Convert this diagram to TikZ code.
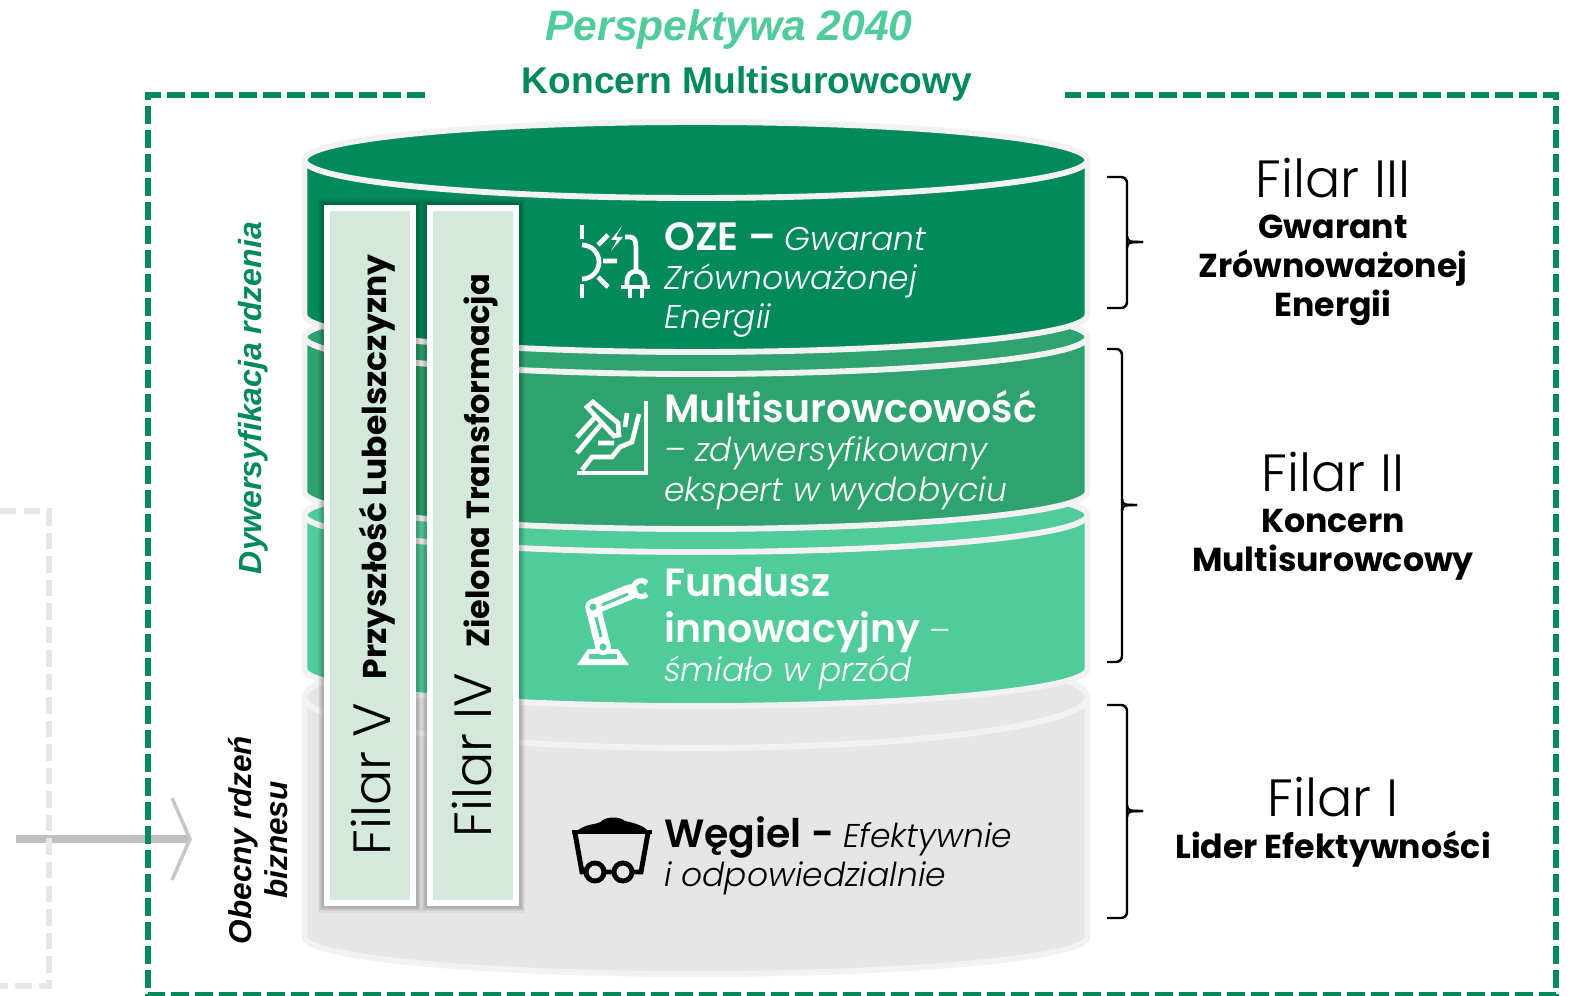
\documentclass[tikz,border=0pt]{standalone}
\usepackage{fontspec}
\setmainfont{Poppins}
\newfontfamily\lightfont{Poppins Light}
\newfontfamily\arialfont{Liberation Sans}
\usetikzlibrary{positioning}

\definecolor{greendark}{HTML}{038A5A}
\definecolor{greenmid}{HTML}{2FA36F}
\definecolor{greenlight}{HTML}{50CB9A}
\definecolor{layergray}{HTML}{E6E6E6}
\definecolor{rimgray}{HTML}{F2F2F2}
\definecolor{columnfill}{HTML}{D5E8DC}

\tikzset{
    headtext/.style={font=\arialfont\bfseries\fontsize{31.6}{34}\selectfont, text=greendark},
    sidetext/.style={font=\arialfont\bfseries\itshape\fontsize{27.2}{30}\selectfont, rotate=90, align=center},
    columnbox/.style={rectangle, draw=white, fill=columnfill, line width=5pt, minimum width=73pt, minimum height=591pt,
        preaction={draw=black, opacity=.04, line width=16pt},
        preaction={draw=black, opacity=.05, line width=14pt},
        preaction={draw=black, opacity=.05, line width=12pt},
        preaction={draw=black, opacity=.06, line width=10pt},
        preaction={draw=black, opacity=.06, line width=8pt}},
    columnname/.style={font=\lightfont\fontsize{44.5}{48}\selectfont, rotate=90},
    columntitle/.style={font=\bfseries\fontsize{28}{30}\selectfont, rotate=90},
    layertext/.style={anchor=north west, align=left, text=white, font=\lightfont\fontsize{28}{33.5}\selectfont},
    filarname/.style={font=\lightfont\fontsize{44.5}{48}\selectfont},
    filartext/.style={font=\bfseries\fontsize{28.2}{33}\selectfont, align=center},
    icon/.style={draw=white, line width=4pt},
    brace/.style={draw=black, line width=2.1pt, rounded corners=5pt}
}

\begin{document}
\begin{tikzpicture}[x=0.85pt, y=-0.85pt]
    \useasboundingbox (0,0) rectangle (1584,996);

    \coordinate (arrowstart) at (16,839);
    \coordinate (arrowtip) at (190,839);
    \coordinate (tipup) at (172,798);
    \coordinate (tipdown) at (172,880);
    \draw[color=black!25, line width=6pt] (arrowstart) -- (arrowtip);
    \draw[color=black!22, line width=3pt] (tipup) -- (arrowtip) -- (tipdown);

    \draw[layergray, line width=5pt, dash pattern=on 14pt off 6pt] (0,511) -- (49,511) -- (49,986) -- (0,986);
    \draw[greendark, line width=5pt, dash pattern=on 15pt off 5.4pt] (425,95) -- (148,95) -- (148,995) -- (1556,995) -- (1556,95) -- (1065,95);

    \foreach \top/\bottom/\fillcol/\ry in {697/937/layergray/51, 515/669/greenlight/37, 337/492/greenmid/37, 160/315/greendark/38} {
        \filldraw[fill=\fillcol, draw=rimgray, line width=5pt] (304.5,\top) -- (304.5,\bottom)
            arc[start angle=180, end angle=0, x radius=391.5, y radius=37] -- (1087.5,\top) -- cycle;
        \filldraw[fill=\fillcol, draw=rimgray, line width=5pt] (696,\top) ellipse[x radius=391.5, y radius=\ry];
    }

    \node[columnbox] (filarV) at (370,555.5) {};
    \node[columnbox] (filarIV) at (473,555.5) {};

    \node[columnname] (nameV) at (371,779) {Filar V};
    \node[columntitle] (titleV) at (377,467) {Przyszłość Lubelszczyzny};
    \node[columnname] (nameIV) at (472,755) {Filar IV};
    \node[columntitle, font=\bfseries\fontsize{27.2}{30}\selectfont] (titleIV) at (481,461) {Zielona Transformacja};

    \node[headtext, font=\arialfont\bfseries\itshape\fontsize{36.2}{38}\selectfont, text=greenlight] (perspective) at (729,29) {Perspektywa 2040};
    \node[headtext] (concern) at (747,84) {Koncern Multisurowcowy};
    \node[sidetext, text=greendark] (diversify) at (253,398) {Dywersyfikacja rdzenia};
    \node[sidetext, text=black, font=\arialfont\bfseries\itshape\fontsize{26.8}{30}\selectfont] (core) at (258,840) {Obecny rdzeń\\biznesu};

    \node[layertext] (oze) at (660,218) {{\bfseries\fontsize{33.5}{33.5}\selectfont OZE –} \textit{Gwarant}\\\textit{Zrównoważonej}\\\textit{Energii}};
    \node[layertext] (multi) at (660,386) {{\bfseries\fontsize{33.5}{33.5}\selectfont Multisurowcowość}\\\textit{– zdywersyfikowany}\\\textit{ekspert w wydobyciu}};
    \node[layertext] (fund) at (660,563) {{\bfseries\fontsize{33.5}{33.5}\selectfont Fundusz}\\[5.5pt]{\bfseries\fontsize{33.5}{33.5}\selectfont innowacyjny} –\\\textit{śmiało w przód}};
    \node[layertext, text=black] (coal) at (660,812) {{\bfseries\fontsize{33.5}{33.5}\selectfont Węgiel -} \textit{Efektywnie}\\\textit{i odpowiedzialnie}};

    \node[filarname] (filar3) at (1333,178) {Filar III};
    \node[filartext] (filar3text) at (1333,270) {Gwarant\\Zrównoważonej\\Energii};
    \node[filarname] (filar2) at (1333,472) {Filar II};
    \node[filartext] (filar2text) at (1333,545) {Koncern\\Multisurowcowy};
    \node[filarname] (filar1) at (1333,797) {Filar I};
    \node[filartext] (filar1text) at (1333,849) {Lider Efektywności};

    \draw[brace] (1107,177) -- (1127,177) -- (1127,308) -- (1107,308);
    \draw[brace, rounded corners=0pt] (1127,236) .. controls (1127,242) and (1130,242) .. (1143,242);
    \draw[brace, rounded corners=0pt] (1127,248) .. controls (1127,242) and (1130,242) .. (1143,242);
    \draw[brace] (1107,349) -- (1122,349) -- (1122,662) -- (1107,662);
    \draw[brace, rounded corners=0pt] (1122,499) .. controls (1122,505) and (1125,505) .. (1137,505);
    \draw[brace, rounded corners=0pt] (1122,511) .. controls (1122,505) and (1125,505) .. (1137,505);
    \draw[brace] (1107,705) -- (1127,705) -- (1127,918) -- (1107,918);
    \draw[brace, rounded corners=0pt] (1127,805) .. controls (1127,811) and (1130,811) .. (1143,811);
    \draw[brace, rounded corners=0pt] (1127,817) .. controls (1127,811) and (1130,811) .. (1143,811);

    % sun and plug
    \draw[icon] (582,225) -- (582,239) (582,284) -- (582,298);
    \draw[icon] (582,245) arc[start angle=-90, end angle=90, radius=17];
    \draw[icon] (598,245) -- (608,235) (603,261) -- (617,261) (598,277) -- (608,287);
    \fill[white] (622,226) -- (611,240) -- (617,240) -- (611,251) -- (623,237) -- (616,237) -- cycle;
    \draw[icon] (625,237) -- (630,237) .. controls (635,237) and (636,242) .. (636,248) -- (636,272);
    \draw[icon] (627,287) -- (627,281) .. controls (627,268) and (645,268) .. (645,281) -- (645,287);
    \draw[icon] (621,287) -- (650,287) (630,287) -- (630,298) (642,287) -- (642,298);

    % mountain and pick
    \draw[icon] (646,401) -- (646,473) -- (577,473);
    \draw[icon] (582,470) -- (592,457) -- (612,457) -- (620,447) -- (632,442) -- (639,414);
    \draw[icon] (627,413) -- (625,427) (598,443) -- (614,443);
    \draw[icon] (593,402) -- (587,407) -- (614,436) -- (619,435) -- (618,423) -- cycle;
    \draw[icon] (597,415) -- (577,437) (603,422) -- (577,453);

    % robot arm
    \fill[white] (577,665) -- (629,665) -- (618,649) -- (588,649) -- cycle;
    \fill[greenlight] (589,654) rectangle (617,659);
    \draw[white, line width=13pt, line cap=round] (593,607) -- (603,647);
    \draw[white, line width=13pt, line cap=round] (593,607) -- (630,592);
    \draw[greenlight, line width=2.5pt] (596,617) -- (601,637) (602,605) -- (628,594);
    \fill[white] (603,647) circle[radius=8];
    \fill[greenlight] (593,607) circle[radius=3.5] (603,647) circle[radius=3.5];
    \draw[white, line width=4.5pt] (647,583) arc[start angle=-45, end angle=-315, radius=8];

    % coal wagon
    \fill[black] (575,833) .. controls (585,822) and (598,826) .. (603,820) .. controls (610,816) and (620,817) .. (625,821)
        .. controls (635,823) and (645,826) .. (650,833) -- cycle;
    \draw[black, line width=4.2pt] (572,832) -- (652,832);
    \draw[black, line width=4.2pt] (575,833) -- (582,872) -- (641,872) -- (648,833);
    \draw[black, fill=layergray, line width=4.2pt] (595,872) circle[radius=9] (623,872) circle[radius=9];
\end{tikzpicture}
\end{document}
